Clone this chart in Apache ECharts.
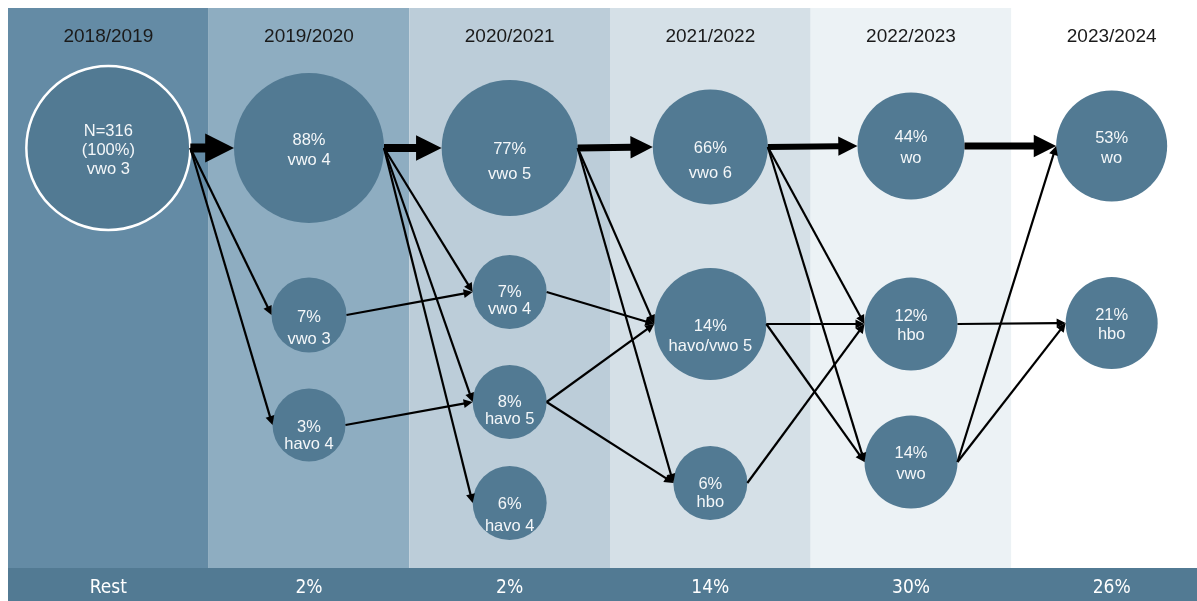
<!DOCTYPE html>
<html lang="nl">
<head>
    <meta charset="UTF-8">
    <title>Doorstroom vwo 3</title>
    <script src="https://cdn.jsdelivr.net/npm/echarts@6/dist/echarts.min.js"></script>
    <style>
        body {
            margin: 0;
            padding: 0;
            background-color: #ffffff;
        }
        #chart {
            width: 1197px;
            height: 601px;
        }
    </style>
</head>
<body>
    <div id="chart"></div>
    <script>
        // school years (top labels) and the "rest" share per year (bottom band)
        const years = ['2018/2019', '2019/2020', '2020/2021', '2021/2022', '2022/2023', '2023/2024'];
        const restLabels = ['Rest', '2%', '2%', '14%', '30%', '26%'];

        // nodes: column (year), row position, text
        const nodeCol = [0, 1, 1, 1, 2, 2, 2, 2, 3, 3, 3, 4, 4, 4, 5, 5];
        const nodeRow = [140, 140, 307, 417, 140, 284, 394, 495, 139, 316, 475, 138, 316, 454, 138, 315];
        const nodePct = ['N=316\n(100%)', '88%', '7%', '3%', '77%', '7%', '8%', '6%',
                         '66%', '14%', '6%', '44%', '12%', '14%', '53%', '21%'];
        const nodeTrack = ['vwo 3', 'vwo 4', 'vwo 3', 'havo 4', 'vwo 5', 'vwo 4', 'havo 5', 'havo 4',
                           'vwo 6', 'havo/vwo 5', 'hbo', 'wo', 'hbo', 'vwo', 'wo', 'hbo'];

        // flows between nodes
        const linkFrom = [0, 0, 0, 1, 1, 1, 1, 2, 3, 4, 4, 4, 5, 6, 6, 8, 8, 8, 9, 9, 10, 11, 12, 13, 13];
        const linkTo   = [1, 2, 3, 4, 5, 6, 7, 5, 6, 8, 9, 10, 9, 9, 10, 11, 12, 13, 12, 13, 12, 14, 15, 14, 15];

        // drawing styles (kept apart from the data)
        const nodeDiameter = [164, 150, 75, 73, 136, 74, 74, 74, 115, 112, 74, 107, 93, 93, 111, 92];
        const labelLineHeight = [19, 20, 22, 17, 25, 17, 17, 22, 25, 20, 18, 21, 19, 21, 20, 19];
        const labelShift = [2, 2, 13, 11, 14, 9, 9, 12, 14, 12, 10, 2, 2, 2, 2, 2];
        const linkWidth = [9, 2.2, 2.2, 8, 2.2, 2.2, 2.2, 2.2, 2.2, 7, 2.2, 2.2, 2.2, 2.2, 2.2,
                           6, 2.2, 2.2, 2.2, 2.2, 2.2, 7, 2.2, 2.2, 2.2];
        const columnColors = ['#648ba5', '#8eadc1', '#bccdd9', '#d5e0e7', '#ecf2f5', '#ffffff'];
        const nodeColor = '#527a93';
        const PLOT_H = 560;

        let chart = echarts.init(document.getElementById('chart'));

        // arrow from right edge of source circle to left edge of target circle
        function renderLink(params, api) {
            let i = params.dataIndex;
            let s = linkFrom[i], t = linkTo[i];
            let a = api.coord([nodeCol[s], nodeRow[s]]);
            let b = api.coord([nodeCol[t], nodeRow[t]]);
            let x1 = a[0] + nodeDiameter[s] / 2, y1 = a[1];
            let x2 = b[0] - nodeDiameter[t] / 2, y2 = b[1];
            let w = linkWidth[i];
            let len = Math.max(9, w * 3.2);
            let half = Math.max(4.5, w * 1.6);
            let dx = x2 - x1, dy = y2 - y1;
            let d = Math.sqrt(dx * dx + dy * dy);
            let ux = dx / d, uy = dy / d;
            let bx = x2 - ux * len, by = y2 - uy * len;
            return {
                type: 'group',
                children: [
                    {
                        type: 'line',
                        shape: { x1: x1, y1: y1, x2: bx + ux, y2: by + uy },
                        style: { stroke: '#000', lineWidth: w }
                    },
                    {
                        type: 'polygon',
                        shape: { points: [[x2, y2], [bx - uy * half, by + ux * half], [bx + uy * half, by - ux * half]] },
                        style: { fill: '#000' }
                    }
                ]
            };
        }

        let nodeData = nodeCol.map((c, i) => {
            let item = {
                value: [c, nodeRow[i]],
                label: { lineHeight: labelLineHeight[i], offset: [0, labelShift[i]] }
            };
            if (i === 0) {
                item.itemStyle = { borderColor: '#ffffff', borderWidth: 2.5 };
            }
            return item;
        });

        let option = {
            animation: false,
            grid: [
                { left: 8, top: 8, width: 1204, height: PLOT_H, outerBoundsMode: 'none' },
                { left: 8, top: 568, width: 1204, height: 33, outerBoundsMode: 'none',
                  show: true, backgroundColor: '#527a93', borderWidth: 0 }
            ],
            xAxis: [
                {
                    type: 'category',
                    gridIndex: 0,
                    data: years,
                    position: 'top',
                    axisLine: { show: false },
                    axisTick: { show: false },
                    axisLabel: {
                        inside: true,
                        margin: 19,
                        color: '#1a1a1a',
                        fontSize: 19,
                        fontFamily: 'Liberation Sans, Arial, sans-serif'
                    }
                },
                {
                    type: 'category',
                    gridIndex: 1,
                    data: restLabels,
                    position: 'top',
                    axisLine: { show: false },
                    axisTick: { show: false },
                    axisLabel: {
                        inside: true,
                        margin: 11,
                        color: '#ffffff',
                        fontSize: 19,
                        fontFamily: 'Liberation Sans Narrow, DejaVu Sans Condensed, sans-serif'
                    }
                }
            ],
            yAxis: [
                { type: 'value', gridIndex: 0, min: 0, max: PLOT_H, inverse: true, show: false },
                { type: 'value', gridIndex: 1, min: 0, max: 1, show: false }
            ],
            series: [
                {
                    // column backgrounds
                    type: 'bar',
                    xAxisIndex: 0,
                    yAxisIndex: 0,
                    barWidth: '100%',
                    silent: true,
                    z: 0,
                    data: columnColors.map(c => ({ value: PLOT_H, itemStyle: { color: c } }))
                },
                {
                    type: 'custom',
                    xAxisIndex: 0,
                    yAxisIndex: 0,
                    clip: false,
                    z: 3,
                    renderItem: renderLink,
                    data: linkFrom.map((s, i) => [nodeCol[s], nodeRow[s], nodeCol[linkTo[i]], nodeRow[linkTo[i]]])
                },
                {
                    type: 'scatter',
                    xAxisIndex: 0,
                    yAxisIndex: 0,
                    z: 2,
                    symbol: 'circle',
                    symbolSize: (val, p) => nodeDiameter[p.dataIndex],
                    itemStyle: { color: nodeColor, opacity: 1 },
                    label: {
                        show: true,
                        position: 'inside',
                        color: '#f4f7f9',
                        fontSize: 16.5,
                        fontFamily: 'Liberation Sans, Arial, sans-serif',
                        formatter: p => nodePct[p.dataIndex] + '\n' + nodeTrack[p.dataIndex]
                    },
                    data: nodeData
                }
            ]
        };
        chart.setOption(option);
    </script>
</body>
</html>
